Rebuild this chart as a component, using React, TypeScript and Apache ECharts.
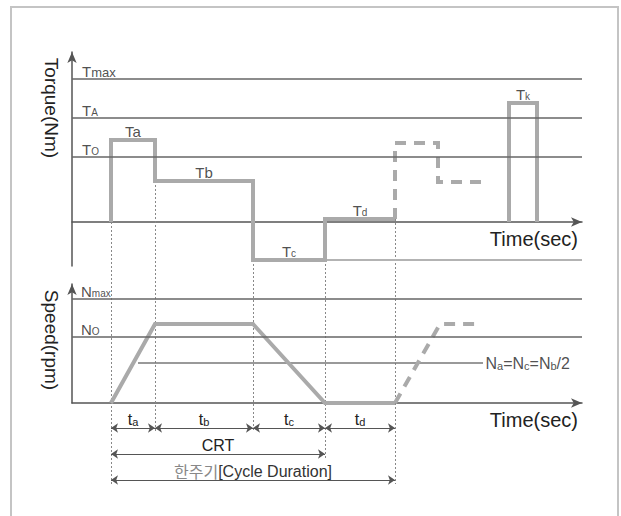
import React, { useEffect, useRef } from 'react';
import * as echarts from 'echarts';

// ---- data (time in arbitrary units, torque / speed in arbitrary units) ----
const phaseNames = ['a', 'b', 'c', 'd'];
const phaseBounds = [3.9, 8.3, 18.1, 25.3, 32.3];
const torqueLevels = [8.2, 4.1, -3.8, 0.3];
const speedAtBounds = [0, 7.9, 7.9, 0, 0];
const nextTorqueTimes = [32.3, 36.6, 40.9];
const nextTorqueLevels = [7.9, 4.0];
const nextSpeedTimes = [32.3, 36.8, 40.9];
const nextSpeedValues = [0, 7.9, 7.9];
const peakTimes = [43.7, 46.5];
const peakTorque = 11.9;
const torqueRefNames = ['max', 'A', 'O'];
const torqueRefValues = [14.3, 10.4, 6.5];
const speedRefNames = ['max', 'O'];
const speedRefValues = [10.4, 6.6];
const halfSpeed = 4.0;
const halfSpeedSpan = [6.6, 41.1];
const timeMax = 51;

const FONT = "'Liberation Sans', Arial, 'Noto Sans CJK KR', sans-serif";
const TXT = '#222';
const TRACE = '#aaaaaa';
const REF = '#666';

const rich = {
  m: { fontSize: 15, fontFamily: FONT, color: TXT, verticalAlign: 'bottom' },
  w: { fontSize: 13, fontFamily: FONT, color: TXT, verticalAlign: 'bottom' },
  s: { fontSize: 10, fontFamily: FONT, color: TXT, verticalAlign: 'bottom' },
  n: { fontSize: 16, fontFamily: FONT, color: TXT, verticalAlign: 'bottom' },
  ns: { fontSize: 11, fontFamily: FONT, color: TXT, verticalAlign: 'bottom' },
  big: { fontSize: 16, fontFamily: FONT, color: TXT, verticalAlign: 'bottom' },
  kr: { fontSize: 16, fontFamily: "'Noto Sans CJK KR', sans-serif", color: '#888', verticalAlign: 'bottom' },
  lat: { fontSize: 16, fontFamily: FONT, color: '#333', verticalAlign: 'bottom' },
};

export default function App() {
  const ref = useRef<HTMLDivElement>(null);

  useEffect(() => {
    if (!ref.current) return;
    const chart = echarts.init(ref.current, undefined, { renderer: 'svg' });

    // torque step profile
    const torqueSteps: number[][] = [[phaseBounds[0], 0]];
    torqueLevels.forEach((lv, i) => {
      torqueSteps.push([phaseBounds[i], lv], [phaseBounds[i + 1], lv]);
    });
    const lastTorque = torqueLevels[torqueLevels.length - 1];
    const nextTorque: number[][] = [[nextTorqueTimes[0], lastTorque]];
    nextTorqueLevels.forEach((lv, i) => {
      nextTorque.push([nextTorqueTimes[i], lv], [nextTorqueTimes[i + 1], lv]);
    });
    const peak = [
      [peakTimes[0], 0],
      [peakTimes[0], peakTorque],
      [peakTimes[1], peakTorque],
      [peakTimes[1], 0],
    ];
    const speedLine = phaseBounds.map((t, i) => [t, speedAtBounds[i]]);
    const nextSpeed = nextSpeedTimes.map((t, i) => [t, nextSpeedValues[i]]);
    const tcLevel = torqueLevels[2];

    const stepLabels = torqueLevels.map((lv, i) => ({
      value: [(phaseBounds[i] + phaseBounds[i + 1]) / 2, lv],
      label: { formatter: i < 2 ? `{m|T${phaseNames[i]}}` : `{m|T}{s|${phaseNames[i]}}` },
    }));
    stepLabels.push({
      value: [(peakTimes[0] + peakTimes[1]) / 2, peakTorque],
      label: { formatter: '{m|T}{s|k}' },
    });

    // guide (dotted) lines: overlay axis uses torque units
    const rowPhase = -20.6;
    const rowCrt = -23.2;
    const rowCycle = -25.8;
    const over = 0.4;
    const levelAt = (i: number) => {
      const left = i === 0 ? 0 : torqueLevels[i - 1];
      const right = i < torqueLevels.length ? torqueLevels[i] : lastTorque;
      return Math.min(left, right);
    };
    const guideEnd = [rowCycle, rowPhase, rowPhase, rowCrt, rowCycle];
    const guides = phaseBounds.map((t, i) => ({
      coords: [[t, levelAt(i)], [t, guideEnd[i] - over]],
    }));

    const dims: any[] = phaseNames.map((nm, i) => ({
      coords: [[phaseBounds[i], rowPhase], [phaseBounds[i + 1], rowPhase]],
      label: { formatter: `{n|t}{ns|${nm}}` },
    }));
    dims.push({
      coords: [[phaseBounds[0], rowCrt], [phaseBounds[3], rowCrt]],
      label: { formatter: '{big|CRT}' },
    });
    dims.push({
      coords: [[phaseBounds[0], rowCycle], [phaseBounds[4], rowCycle]],
      label: { formatter: '{kr|한주기}{lat|[Cycle Duration]}' },
    });

    const hiddenAxis = {
      show: false,
    };
    const arrowLine = {
      show: true,
      onZero: true,
      symbol: ['none', 'arrow'],
      symbolSize: [7, 11],
      lineStyle: { color: '#555', width: 1.5 },
    };
    const timeAxis = (gi: number) => ({
      type: 'value',
      gridIndex: gi,
      min: 0,
      max: timeMax,
      axisLine: arrowLine,
      axisTick: { show: false },
      axisLabel: { show: false },
      splitLine: { show: false },
      name: 'Time(sec)',
      nameLocation: 'end',
      nameGap: -4,
      nameTextStyle: {
        fontSize: 20,
        fontFamily: FONT,
        color: TXT,
        align: 'right',
        verticalAlign: 'top',
        padding: [7, 0, 0, 0],
      },
    });
    const valAxis = (gi: number, min: number, max: number) => ({
      type: 'value',
      gridIndex: gi,
      min,
      max,
      axisLine: arrowLine,
      axisTick: { show: false },
      axisLabel: { show: false },
      splitLine: { show: false },
    });

    const labelSeries = (xi: number, data: any[], position: string, align: string, distance: number) => ({
      type: 'scatter',
      xAxisIndex: xi,
      yAxisIndex: xi,
      symbolSize: 1,
      itemStyle: { color: 'rgba(0,0,0,0)' },
      silent: true,
      z: 5,
      data,
      label: { show: true, position, align, distance, color: TXT, rich },
    });

    const refMark = (values: number[]) => ({
      silent: true,
      symbol: ['none', 'none'],
      label: { show: false },
      lineStyle: { color: REF, width: 1.5, type: 'solid' },
      data: values.map((v) => ({ yAxis: v })),
    });

    const option: any = {
      animation: false,
      backgroundColor: '#fff',
      grid: [
        { left: 72, top: 52, width: 510, height: 214 },
        { left: 72, top: 284, width: 510, height: 119 },
        { left: 72, top: 52, width: 510, height: 438 },
      ],
      xAxis: [timeAxis(0), timeAxis(1), { type: 'value', gridIndex: 2, min: 0, max: timeMax, ...hiddenAxis }],
      yAxis: [
        valAxis(0, -4.4, 17.0),
        valAxis(1, 0, 11.9),
        { type: 'value', gridIndex: 2, min: -26.8, max: 17.0, ...hiddenAxis },
      ],
      graphic: [
        {
          type: 'rect',
          shape: { x: 11, y: 7, width: 607, height: 530 },
          style: { fill: 'none', stroke: '#c4c4c4', lineWidth: 2 },
          z: -10,
          silent: true,
        },
        {
          type: 'text',
          x: 51,
          y: 108,
          rotation: -Math.PI / 2,
          style: {
            text: 'Torque(Nm)',
            font: `19px ${FONT}`,
            fill: TXT,
            align: 'center',
            verticalAlign: 'middle',
            textAlign: 'center',
            textVerticalAlign: 'middle',
          },
        },
        {
          type: 'text',
          x: 51,
          y: 340,
          rotation: -Math.PI / 2,
          style: {
            text: 'Speed(rpm)',
            font: `19px ${FONT}`,
            fill: TXT,
            align: 'center',
            verticalAlign: 'middle',
            textAlign: 'center',
            textVerticalAlign: 'middle',
          },
        },
      ],
      series: [
        // torque reference levels + labels
        {
          ...labelSeries(
            0,
            torqueRefNames.map((nm, i) => ({
              value: [1.0, torqueRefValues[i]],
              label: { formatter: nm === 'max' ? `{m|T}{w|${nm}}` : `{m|T}{s|${nm}}` },
            })),
            'top',
            'left',
            0
          ),
          markLine: refMark(torqueRefValues),
        },
        // Tc continuation
        {
          type: 'line',
          xAxisIndex: 0,
          yAxisIndex: 0,
          data: [[phaseBounds[3], tcLevel], [timeMax, tcLevel]],
          symbol: 'none',
          lineStyle: { color: '#b3b3b3', width: 2 },
          z: 2,
          silent: true,
        },
        // torque profile
        {
          type: 'line',
          xAxisIndex: 0,
          yAxisIndex: 0,
          data: torqueSteps,
          symbol: 'none',
          lineStyle: { color: TRACE, width: 4, join: 'miter', cap: 'butt' },
          z: 3,
          silent: true,
        },
        {
          type: 'line',
          xAxisIndex: 0,
          yAxisIndex: 0,
          data: nextTorque,
          symbol: 'none',
          lineStyle: { color: TRACE, width: 4, type: [11, 8], join: 'miter', cap: 'butt' },
          z: 3,
          silent: true,
        },
        {
          type: 'line',
          xAxisIndex: 0,
          yAxisIndex: 0,
          data: peak,
          symbol: 'none',
          lineStyle: { color: TRACE, width: 4, join: 'miter', cap: 'butt' },
          z: 3,
          silent: true,
        },
        labelSeries(0, stepLabels, 'top', 'center', 1),
        // speed reference levels
        {
          ...labelSeries(
            1,
            speedRefNames.map((nm, i) => ({
              value: [0.9, speedRefValues[i]],
              label: { formatter: `{m|N}{s|${nm}}` },
            })),
            'top',
            'left',
            0
          ),
          markLine: refMark(speedRefValues),
        },
        {
          type: 'line',
          xAxisIndex: 1,
          yAxisIndex: 1,
          data: [[halfSpeedSpan[0], halfSpeed], [halfSpeedSpan[1], halfSpeed]],
          symbol: 'none',
          lineStyle: { color: '#777', width: 1.5 },
          z: 2,
          silent: true,
        },
        labelSeries(
          1,
          [{ value: [halfSpeedSpan[1], halfSpeed], label: { formatter: '{n|N}{ns|a}{n|=N}{ns|c}{n|=N}{ns|b}{n|/2}' } }],
          'right',
          'left',
          2
        ),
        {
          type: 'line',
          xAxisIndex: 1,
          yAxisIndex: 1,
          data: speedLine,
          symbol: 'none',
          lineStyle: { color: TRACE, width: 4, join: 'miter', cap: 'butt' },
          z: 3,
          silent: true,
        },
        {
          type: 'line',
          xAxisIndex: 1,
          yAxisIndex: 1,
          data: nextSpeed,
          symbol: 'none',
          lineStyle: { color: TRACE, width: 4, type: [11, 8], join: 'miter', cap: 'butt' },
          z: 3,
          silent: true,
        },
        // dotted guides
        {
          type: 'lines',
          coordinateSystem: 'cartesian2d',
          xAxisIndex: 2,
          yAxisIndex: 2,
          data: guides,
          symbol: 'none',
          lineStyle: { color: '#888', width: 1, type: [2, 2], opacity: 1 },
          z: 1,
          silent: true,
        },
        // dimension arrows
        {
          type: 'lines',
          coordinateSystem: 'cartesian2d',
          xAxisIndex: 2,
          yAxisIndex: 2,
          data: dims,
          symbol: ['arrow', 'arrow'],
          symbolSize: 7,
          lineStyle: { color: '#555', width: 1, opacity: 1 },
          label: { show: true, position: 'middle', distance: 1, color: TXT, rich },
          z: 4,
          silent: true,
        },
      ],
    };

    chart.setOption(option);
    return () => chart.dispose();
  }, []);

  return (
    <div
      ref={ref}
      style={{ position: 'fixed', left: 0, top: 0, width: 621, height: 516, background: '#fff' }}
    />
  );
}
